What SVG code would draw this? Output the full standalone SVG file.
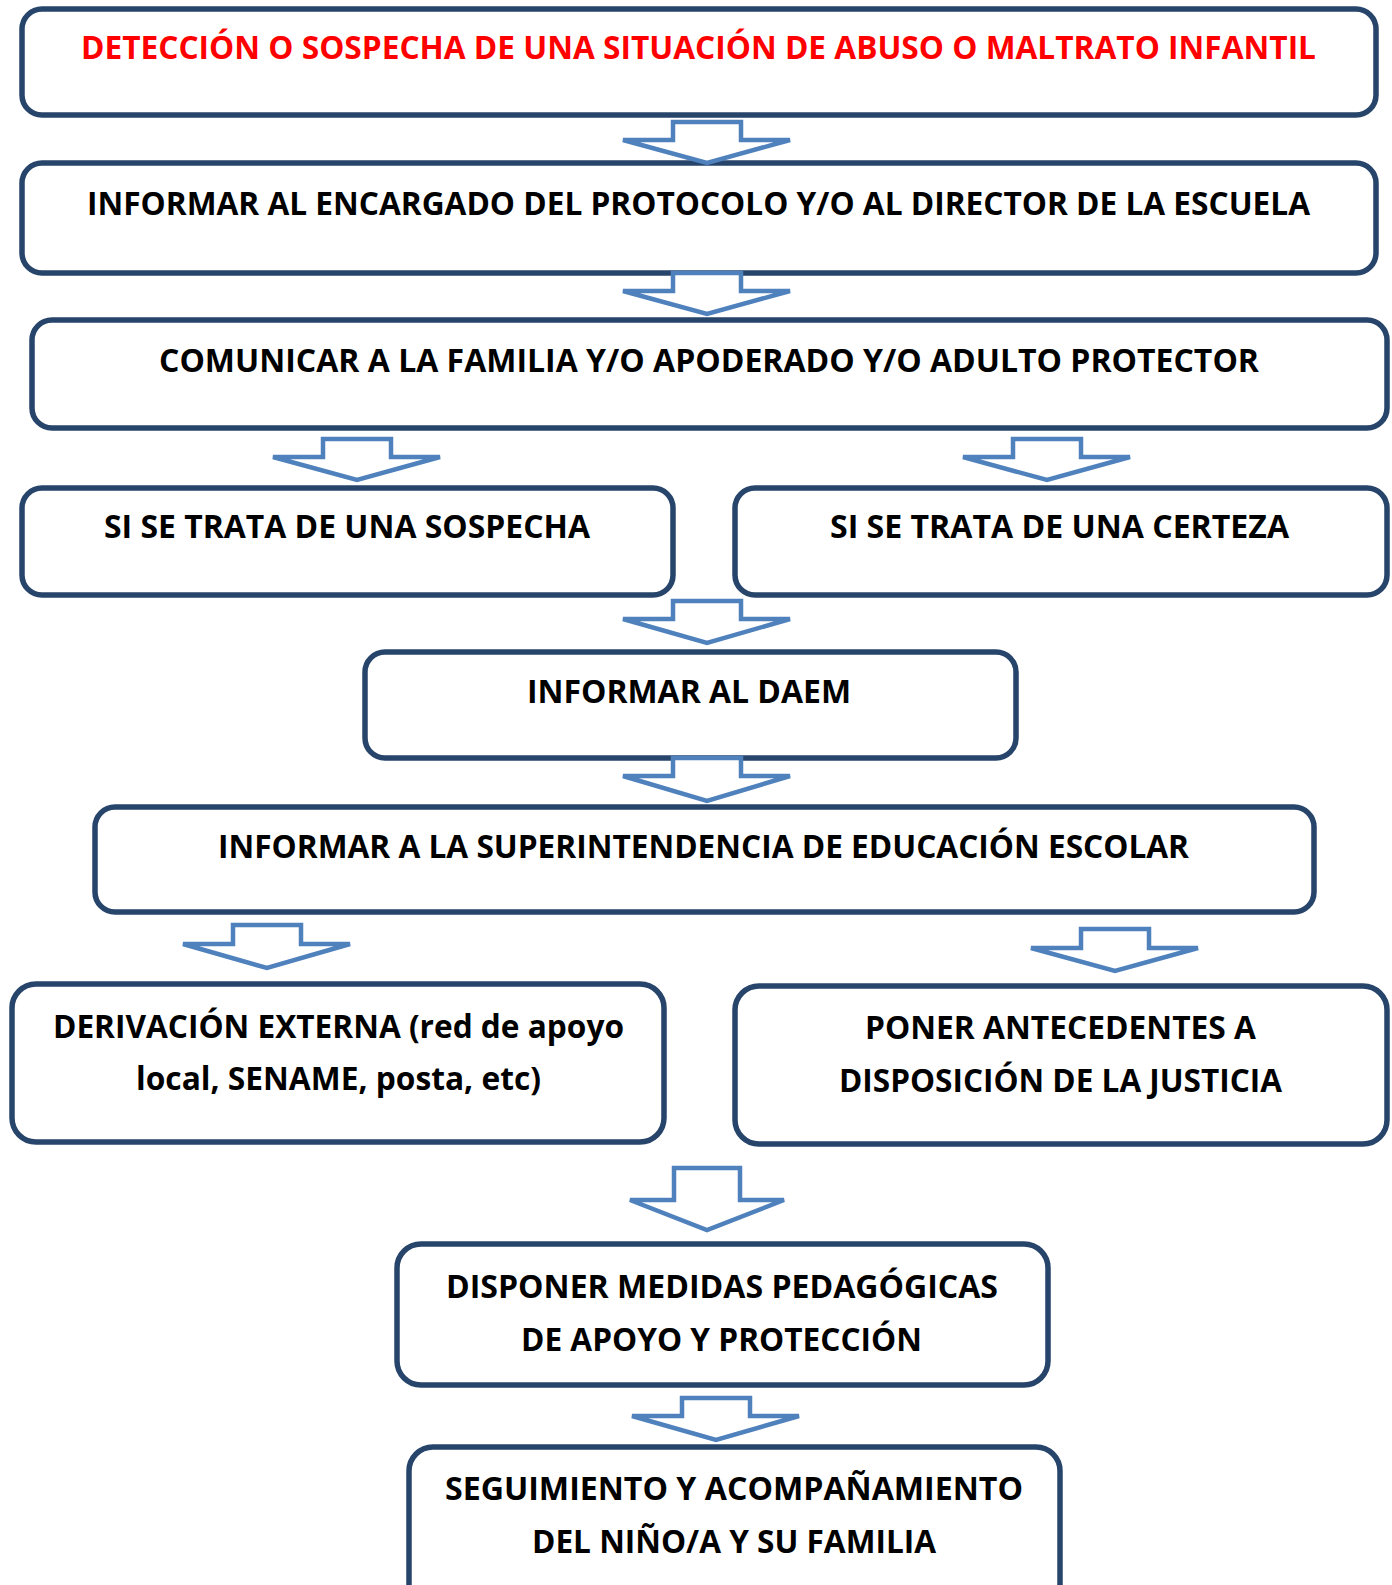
<svg xmlns="http://www.w3.org/2000/svg" width="1392" height="1585" viewBox="0 0 1392 1585">
<style>
.box{fill:#fff;stroke:#27446a;stroke-width:5.5}
.arr{fill:#fff;stroke:#4f81bd;stroke-width:4.5;stroke-linejoin:miter}
text{font-family:"Open Sans","Liberation Sans",sans-serif;font-weight:700;font-size:32px;fill:#000;text-anchor:middle}
.red{fill:#ff0000}
</style>
<rect width="1392" height="1585" fill="#fff"/>
<g id="n1"><rect class="box" x="22" y="9" width="1354" height="106" rx="20"/><text class="red" x="698.5" y="59" textLength="1235" lengthAdjust="spacingAndGlyphs">DETECCIÓN O SOSPECHA DE UNA SITUACIÓN DE ABUSO O MALTRATO INFANTIL</text></g>
<g id="n2"><rect class="box" x="22" y="163" width="1354" height="110" rx="20"/><text x="698.5" y="215" textLength="1223" lengthAdjust="spacingAndGlyphs">INFORMAR AL ENCARGADO DEL PROTOCOLO Y/O AL DIRECTOR DE LA ESCUELA</text></g>
<g id="n3"><rect class="box" x="32" y="320" width="1355" height="108" rx="20"/><text x="709" y="372" textLength="1100" lengthAdjust="spacingAndGlyphs">COMUNICAR A LA FAMILIA Y/O APODERADO Y/O ADULTO PROTECTOR</text></g>
<g id="n4a"><rect class="box" x="22" y="488" width="651" height="107" rx="20"/><text x="347" y="538" textLength="486" lengthAdjust="spacingAndGlyphs">SI SE TRATA DE UNA SOSPECHA</text></g>
<g id="n4b"><rect class="box" x="735" y="488" width="652" height="107" rx="20"/><text x="1059.5" y="538" textLength="459" lengthAdjust="spacingAndGlyphs">SI SE TRATA DE UNA CERTEZA</text></g>
<g id="n5"><rect class="box" x="365" y="652" width="651" height="106" rx="20"/><text x="689" y="703" textLength="324" lengthAdjust="spacingAndGlyphs">INFORMAR AL DAEM</text></g>
<g id="n6"><rect class="box" x="95" y="807" width="1219" height="105" rx="20"/><text x="703.5" y="858" textLength="971" lengthAdjust="spacingAndGlyphs">INFORMAR A LA SUPERINTENDENCIA DE EDUCACIÓN ESCOLAR</text></g>
<g id="n7a"><rect class="box" x="12" y="984" width="652" height="158" rx="24"/><text x="338.5" y="1038" textLength="571" lengthAdjust="spacingAndGlyphs">DERIVACIÓN EXTERNA (red de apoyo</text><text x="338.5" y="1090" textLength="405" lengthAdjust="spacingAndGlyphs">local, SENAME, posta, etc)</text></g>
<g id="n7b"><rect class="box" x="735" y="986" width="652" height="158" rx="24"/><text x="1060.5" y="1039" textLength="391" lengthAdjust="spacingAndGlyphs">PONER ANTECEDENTES A</text><text x="1060.5" y="1092" textLength="443" lengthAdjust="spacingAndGlyphs">DISPOSICIÓN DE LA JUSTICIA</text></g>
<g id="n8"><rect class="box" x="397" y="1244" width="651" height="141" rx="24"/><text x="722" y="1298" textLength="552" lengthAdjust="spacingAndGlyphs">DISPONER MEDIDAS PEDAGÓGICAS</text><text x="721.5" y="1351" textLength="401" lengthAdjust="spacingAndGlyphs">DE APOYO Y PROTECCIÓN</text></g>
<g id="n9"><rect class="box" x="409" y="1447" width="651" height="170" rx="24"/><text x="734" y="1500" textLength="578" lengthAdjust="spacingAndGlyphs">SEGUIMIENTO Y ACOMPAÑAMIENTO</text><text x="734" y="1553" textLength="404" lengthAdjust="spacingAndGlyphs">DEL NIÑO/A Y SU FAMILIA</text></g>
<g id="connectors">
<polygon class="arr" points="673,122 741,122 741,140 790,140 707,163 623,140 673,140"/>
<polygon class="arr" points="673,273 741,273 741,291 790,291 707,314 623,291 673,291"/>
<polygon class="arr" points="323,439 391,439 391,457 440,457 357,480 273,457 323,457"/>
<polygon class="arr" points="1013,439 1081,439 1081,457 1130,457 1047,480 963,457 1013,457"/>
<polygon class="arr" points="673,601 741,601 741,619 790,619 707,643 623,619 673,619"/>
<polygon class="arr" points="673,758 741,758 741,776 790,776 707,801 623,776 673,776"/>
<polygon class="arr" points="233,925 301,925 301,944 350,944 267,968 183,944 233,944"/>
<polygon class="arr" points="1081,929 1149,929 1149,948 1198,948 1115,971 1031,948 1081,948"/>
<polygon class="arr" points="674,1168 740,1168 740,1200 784,1200 707,1230 630,1200 674,1200"/>
<polygon class="arr" points="682,1398 750,1398 750,1416 799,1416 716,1440 632,1416 682,1416"/>
</g>
</svg>
